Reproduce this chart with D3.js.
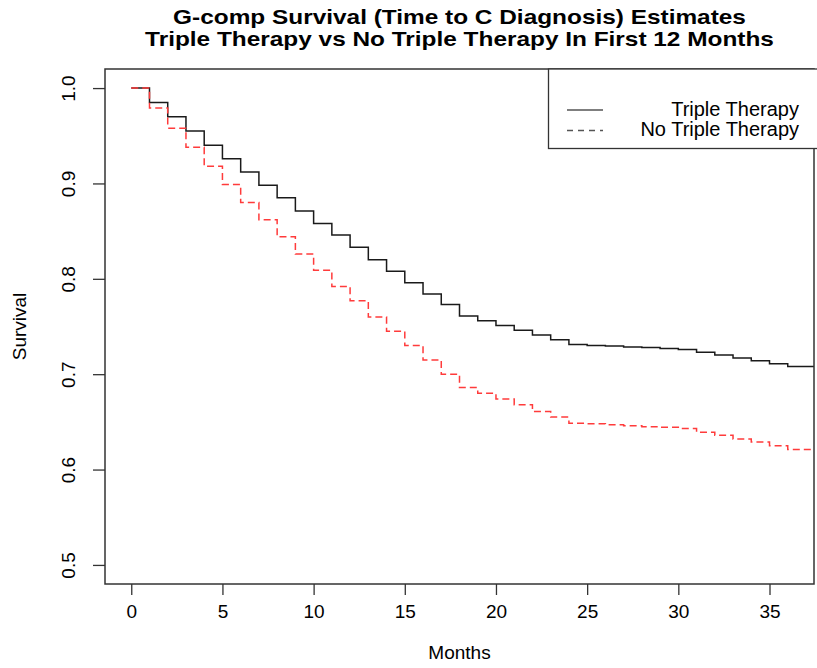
<!DOCTYPE html>
<html>
<head>
<meta charset="utf-8">
<script src="https://cdn.jsdelivr.net/npm/d3@7"></script>
<style>
  html, body { margin: 0; padding: 0; background: #fff; }
  svg { display: block; font-family: "Liberation Sans", Arial, sans-serif; }
</style>
</head>
<body>
<svg id="chart" width="817" height="668"></svg>
<script>
const months = d3.range(0, 37);
const tripleTherapy = [1.0, 0.985, 0.970, 0.955, 0.940, 0.926, 0.912, 0.898, 0.885, 0.871, 0.858, 0.846, 0.833, 0.820, 0.808, 0.796, 0.784, 0.773, 0.761, 0.756, 0.751, 0.746, 0.741, 0.736, 0.731, 0.730, 0.7295, 0.7285, 0.728, 0.727, 0.726, 0.723, 0.720, 0.717, 0.714, 0.711, 0.708];
const noTripleTherapy = [1.0, 0.979, 0.958, 0.938, 0.918, 0.899, 0.880, 0.862, 0.844, 0.826, 0.809, 0.792, 0.777, 0.760, 0.745, 0.730, 0.715, 0.700, 0.686, 0.680, 0.674, 0.668, 0.661, 0.655, 0.6485, 0.648, 0.647, 0.646, 0.645, 0.6443, 0.643, 0.639, 0.636, 0.632, 0.629, 0.625, 0.621];
const xTicks = [0, 5, 10, 15, 20, 25, 30, 35];
const yTicks = [0.5, 0.6, 0.7, 0.8, 0.9, 1.0];
const seriesNames = ["Triple Therapy", "No Triple Therapy"];
const titleLines = ["G-comp Survival (Time to C Diagnosis) Estimates", "Triple Therapy vs No Triple Therapy In First 12 Months"];

const svg = d3.select("#chart");
const L = 105, R = 814, T = 69, B = 584;
const xPad = 36 * 0.04, yPad = 0.5 * 0.04;
const x = d3.scaleLinear().domain([0 - xPad, 36 + xPad]).range([L, R]);
const y = d3.scaleLinear().domain([0.5 - yPad, 1.0 + yPad]).range([B, T]);

svg.append("defs").append("clipPath").attr("id", "clip")
  .append("rect").attr("x", L).attr("y", T).attr("width", R - L).attr("height", B - T);

// title
svg.selectAll(".title").data(titleLines).enter().append("text")
  .attr("transform", (d, i) => `translate(${(L + R) / 2},${24 + i * 21.5}) scale(1.22,1)`)
  .attr("text-anchor", "middle").attr("font-weight", "bold").attr("font-size", 20)
  .attr("fill", "#000").text(d => d);

// axes
const xAxis = svg.append("g").attr("transform", `translate(0,${B})`)
  .call(d3.axisBottom(x).tickValues(xTicks).tickSize(11).tickSizeOuter(0).tickPadding(10));
xAxis.select(".domain").remove();
xAxis.selectAll("line").attr("stroke", "#333").attr("stroke-width", 1.3);
xAxis.selectAll("text").attr("font-size", 19).attr("fill", "#000")
  .attr("font-family", "Liberation Sans, Arial, sans-serif");

const yAxis = svg.append("g").attr("transform", `translate(${L},0)`)
  .call(d3.axisLeft(y).tickValues(yTicks).tickSize(12).tickSizeOuter(0).tickFormat(d3.format(".1f")));
yAxis.select(".domain").remove();
yAxis.selectAll("line").attr("stroke", "#333").attr("stroke-width", 1.3);
yAxis.selectAll("text").remove();
yAxis.selectAll(".tick").append("text")
  .attr("transform", "translate(-30,0) rotate(-90)")
  .attr("text-anchor", "middle").attr("font-size", 19).attr("fill", "#000")
  .attr("font-family", "Liberation Sans, Arial, sans-serif")
  .text(d => d3.format(".1f")(d));

// axis labels
svg.append("text").attr("x", (L + R) / 2).attr("y", 659).attr("text-anchor", "middle")
  .attr("font-size", 19).text("Months");
svg.append("text").attr("transform", `translate(26,${(T + B) / 2}) rotate(-90)`)
  .attr("text-anchor", "middle").attr("font-size", 19).text("Survival");

// lines
const line = d3.line().x(d => x(d[0])).y(d => y(d[1])).curve(d3.curveStepAfter);
function pts(vals) {
  const p = months.map((m, i) => [m, vals[i]]);
  p.push([x.domain()[1] + 1, vals[vals.length - 1]]);
  return p;
}
const g = svg.append("g").attr("clip-path", "url(#clip)");
g.append("path").attr("d", line(pts(tripleTherapy)))
  .attr("fill", "none").attr("stroke", "#1a1a1a").attr("stroke-width", 1.5);
g.append("path").attr("d", line(pts(noTripleTherapy)))
  .attr("fill", "none").attr("stroke", "#ff3b3b").attr("stroke-width", 1.5)
  .attr("stroke-dasharray", "7,4");

// box
svg.append("rect").attr("x", L).attr("y", T).attr("width", R - L).attr("height", B - T)
  .attr("fill", "none").attr("stroke", "#333").attr("stroke-width", 1.5);

// legend
const lg = svg.append("g");
lg.append("rect").attr("x", 548.5).attr("y", T).attr("width", 300).attr("height", 79.5)
  .attr("fill", "#fff").attr("stroke", "#333").attr("stroke-width", 1.3);
seriesNames.forEach((name, i) => {
  const yy = 110 + i * 20.5;
  lg.append("line").attr("x1", 567).attr("x2", 603).attr("y1", yy).attr("y2", yy)
    .attr("stroke", "#555").attr("stroke-width", 1.3)
    .attr("stroke-dasharray", i === 1 ? "6,5" : null);
  lg.append("text").attr("x", 799).attr("y", yy + 5.5).attr("text-anchor", "end")
    .attr("font-size", 20).attr("fill", "#000").text(name);
});
</script>
</body>
</html>
